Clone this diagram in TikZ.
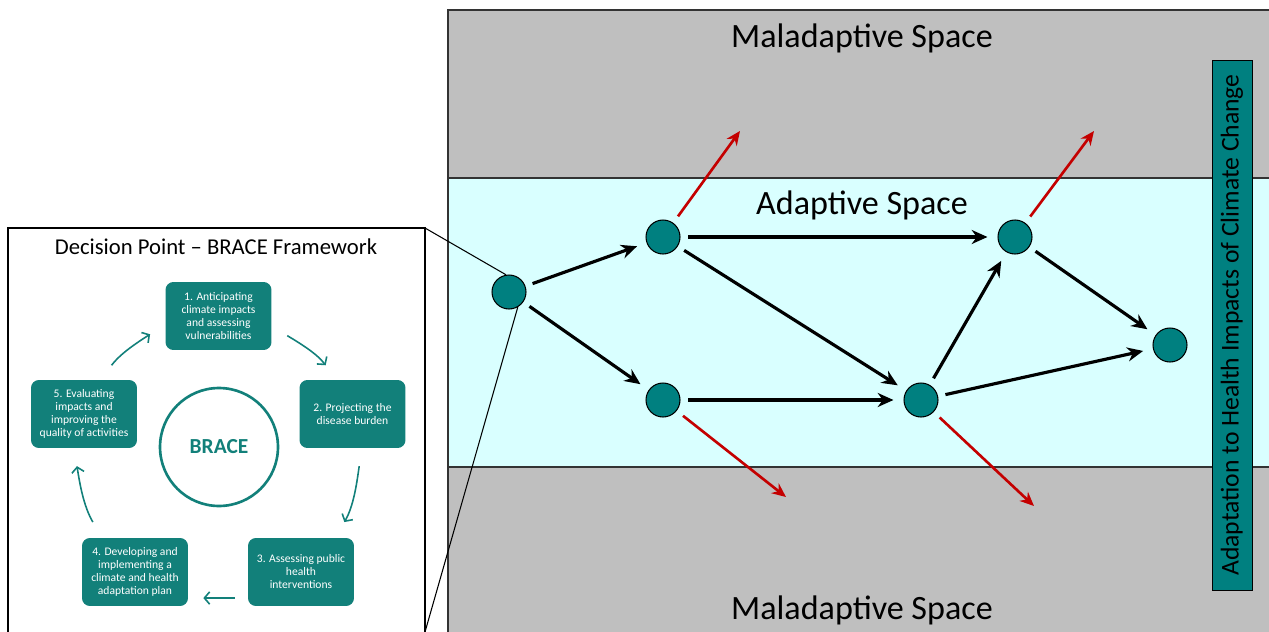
\documentclass[tikz,border=0pt]{standalone}
\usepackage{fontspec}
\setmainfont{Carlito}
\usetikzlibrary{arrows.meta}
\definecolor{dotteal}{RGB}{0,128,128}
\definecolor{boxteal}{RGB}{18,128,122}
\definecolor{riskred}{RGB}{196,0,0}
\definecolor{malgray}{RGB}{191,191,191}
\definecolor{adaptcyan}{RGB}{217,255,255}

\begin{document}
\begin{tikzpicture}[x=0.02cm, y=-0.02cm,
	dot/.style={draw, circle, fill=dotteal, minimum size=0.68cm, inner sep=0pt, line width=0.6pt},
	stage/.style={rectangle, rounded corners=4.5pt, fill=boxteal, text=white, align=center, minimum width=2.12cm, minimum height=1.36cm, inner sep=1pt, font=\fontsize{6.6}{7.4}\selectfont},
	space/.style={font=\fontsize{19.4}{23}\selectfont},
	flow/.style={-{Stealth[length=9pt, width=8pt]}, line width=1.8pt, shorten <=0.15cm, shorten >=0.2cm},
	risk/.style={-{Stealth[length=8pt, width=7pt]}, line width=1.5pt, draw=riskred},
	cyc/.style={-{Straight Barb[length=3pt, width=7pt]}, line width=0.9pt, draw=boxteal, shorten <=0.36cm, shorten >=0.36cm}]
	\useasboundingbox (0,0) rectangle (1269,632);
	% spaces
	\fill[malgray] (448,10) rectangle (1280,640);
	\fill[adaptcyan] (448,178) rectangle (1280,467);
	\draw[line width=0.6pt, draw=black!80] (448,178) -- (1280,178);
	\draw[line width=0.6pt, draw=black!80] (448,467) -- (1280,467);
	\draw[line width=0.8pt, draw=black!80] (1280,10) -- (448,10) -- (448,640);
	\node[space] (maltop) at (862,38) {Maladaptive Space};
	\node[space] (adapt) at (862,205) {Adaptive Space};
	\node[space] (malbot) at (862,610) {Maladaptive Space};
	\node[draw, fill=dotteal, rotate=90, minimum width=10.6cm, minimum height=0.8cm, inner sep=0pt, font=\fontsize{14.6}{17}\selectfont] (vlabel) at (1232,325) {Adaptation to Health Impacts of Climate Change};
	% pathways
	\node[dot] (n0) at (509,292) {};
	\node[dot] (n1) at (663,237) {};
	\node[dot] (n2) at (663,400) {};
	\node[dot] (n3) at (1015,237) {};
	\node[dot] (n4) at (921,400) {};
	\node[dot] (n5) at (1170,345) {};
	\draw[flow] (n0) -- (n1);
	\draw[flow] (n0) -- (n2);
	\draw[flow] (n1) -- (n3);
	\draw[flow] (n1) -- (n4);
	\draw[flow] (n2) -- (n4);
	\draw[flow] (n4) -- (n3);
	\draw[flow] (n3) -- (n5);
	\draw[flow] (n4) -- (n5);
	\coordinate (r1) at (740,131);
	\coordinate (r2) at (786,497);
	\coordinate (r3) at (1094,131);
	\coordinate (r4) at (1034,506);
	\draw[risk, shorten <=0.16cm] (n1) -- (r1);
	\draw[risk, shorten <=0.16cm] (n2) -- (r2);
	\draw[risk, shorten <=0.16cm] (n3) -- (r3);
	\draw[risk, shorten <=0.16cm] (n4) -- (r4);
	% BRACE panel
	\draw[fill=white, line width=0.8pt] (8,228) rectangle (425,640);
	\coordinate (ptop) at (425,228);
	\coordinate (pbot) at (425,632);
	\draw[line width=0.6pt] (ptop) -- (n0.100);
	\draw[line width=0.6pt] (pbot) -- (n0.-60);
	\node[font=\fontsize{12.9}{15}\selectfont] (title) at (216,247) {Decision Point -- BRACE Framework};
	\node[draw=boxteal, circle, line width=1.5pt, minimum size=2.36cm, text=boxteal, font=\fontsize{12.2}{14}\selectfont\bfseries] (brace) at (219,447) {BRACE};
	\node[stage] (b1) at (218.5,316) {1. Anticipating\\climate impacts\\and assessing\\vulnerabilities};
	\node[stage] (b2) at (352.5,414) {2. Projecting the\\disease burden};
	\node[stage] (b3) at (301,572) {3. Assessing public\\health\\interventions};
	\node[stage] (b4) at (135,572) {4. Developing and\\implementing a\\climate and health\\adaptation plan};
	\node[stage] (b5) at (84,414) {5. Evaluating\\impacts and\\improving the\\quality of activities};
	\draw[cyc] (b1.-11) to[out=-31, in=127] (b2.115);
	\draw[cyc] (b2.-75) to[out=-98, in=60] (b3.45);
	\draw[cyc, shorten <=0.26cm, shorten >=0.3cm] (b3.-154) -- (b4.-26);
	\draw[cyc] (b4.134) to[out=120, in=-81] (b5.-106);
	\draw[cyc] (b5.64) to[out=53, in=213] (b1.-171);
\end{tikzpicture}
\end{document}
